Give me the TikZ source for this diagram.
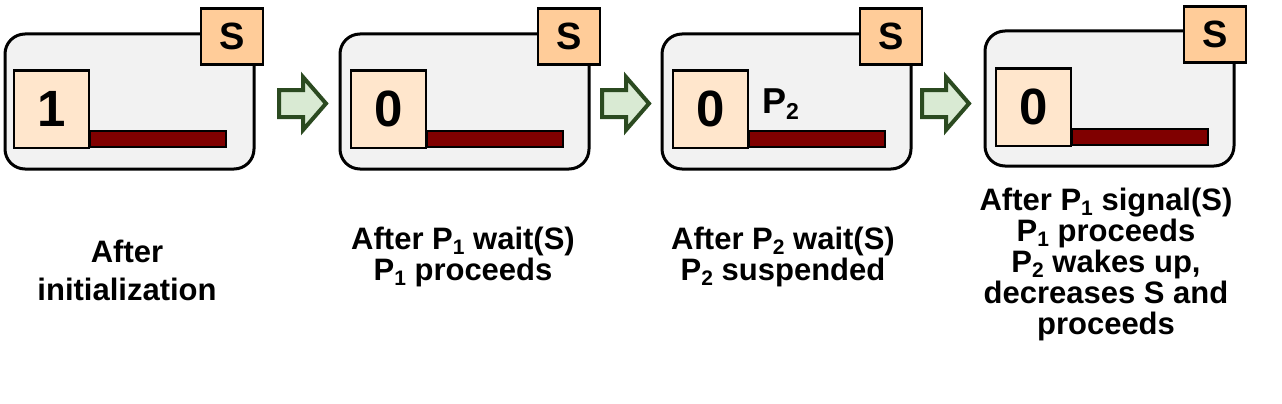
\documentclass[tikz,border=0pt]{standalone}
\usepackage{fontspec}
\setmainfont{Liberation Sans}
\usetikzlibrary{positioning}
\definecolor{boxfill}{HTML}{F2F2F2}
\definecolor{sfill}{HTML}{FFCC99}
\definecolor{valfill}{HTML}{FFE6CC}
\definecolor{barfill}{HTML}{800000}
\definecolor{arrfill}{HTML}{D9EAD3}
\definecolor{arrdraw}{HTML}{2B4A20}
\newcommand\lsub[1]{\raisebox{-5pt}{\fontsize{21}{21}\selectfont #1}}
\tikzset{
  stagebox/.style={draw=black, line width=3pt, fill=boxfill, rounded corners=20pt,
    minimum width=249pt, minimum height=135pt, anchor=north west, inner sep=0pt},
  semabox/.style={draw=black, line width=2.5pt, fill=sfill, minimum width=62pt,
    minimum height=56pt, anchor=north west, inner sep=0pt,
    font=\fontsize{38}{38}\selectfont\bfseries},
  valbox/.style={draw=black, line width=2.5pt, fill=valfill, minimum width=75pt,
    minimum height=77pt, anchor=north west, inner sep=0pt,
    font=\fontsize{51}{51}\selectfont\bfseries},
  queuebar/.style={draw=black, line width=2pt, fill=barfill, minimum width=136pt,
    minimum height=16pt, anchor=north west, inner sep=0pt},
  caption/.style={align=center, anchor=north, inner sep=0pt,
    font=\fontsize{31}{31}\selectfont\bfseries},
  blockarrow/.style={draw=arrdraw, fill=arrfill, line width=4pt, line join=miter}
}
\begin{document}
\begin{tikzpicture}[x=1pt,y=-1pt]
\useasboundingbox (0,0) rectangle (1282,404);
% stage 1
\node[stagebox] (b1) at (3.5,32.5) {};
\node[queuebar] (q1) at (89,130) {};
\node[valbox] (v1) at (12.5,69.5) {1};
\node[semabox] (s1) at (199.5,7.5) {S};
% stage 2
\node[stagebox] (b2) at (338.5,32.5) {};
\node[queuebar] (q2) at (426,130) {};
\node[valbox] (v2) at (349.5,69.5) {0};
\node[semabox] (s2) at (536.5,7.5) {S};
% stage 3
\node[stagebox] (b3) at (660.5,32.5) {};
\node[queuebar] (q3) at (748,130) {};
\node[valbox] (v3) at (671.5,69.5) {0};
\node[semabox] (s3) at (858.5,7.5) {S};
\node[anchor=base west, inner sep=0pt, font=\fontsize{36}{36}\selectfont\bfseries] (p3) at (762,113) {P\raisebox{-6pt}{\fontsize{23}{23}\selectfont 2}};
% stage 4
\node[stagebox] (b4) at (983.5,29.5) {};
\node[queuebar] (q4) at (1071,128) {};
\node[valbox] (v4) at (994.5,67.5) {0};
\node[semabox] (s4) at (1182.5,5.5) {S};
% arrows
\foreach \x/\n in {277/a1,600/a2,920/a3}{
  \draw[blockarrow] (\x+2,90) -- (\x+26,90) -- (\x+26,77) -- (\x+49,103.5)
    -- (\x+26,130) -- (\x+26,117) -- (\x+2,117) -- cycle;
}
% captions
\node[caption, font=\fontsize{31}{38}\selectfont\bfseries] (c1) at (127,240) {After\\initialization};
\node[caption] (c2) at (463,227) {After P\lsub{1} wait(S)\\P\lsub{1} proceeds};
\node[caption] (c3) at (783,227) {After P\lsub{2} wait(S)\\P\lsub{2} suspended};
\node[caption] (c4) at (1106,188) {After P\lsub{1} signal(S)\\P\lsub{1} proceeds\\P\lsub{2} wakes up,\\decreases S and\\proceeds};
\end{tikzpicture}
\end{document}
